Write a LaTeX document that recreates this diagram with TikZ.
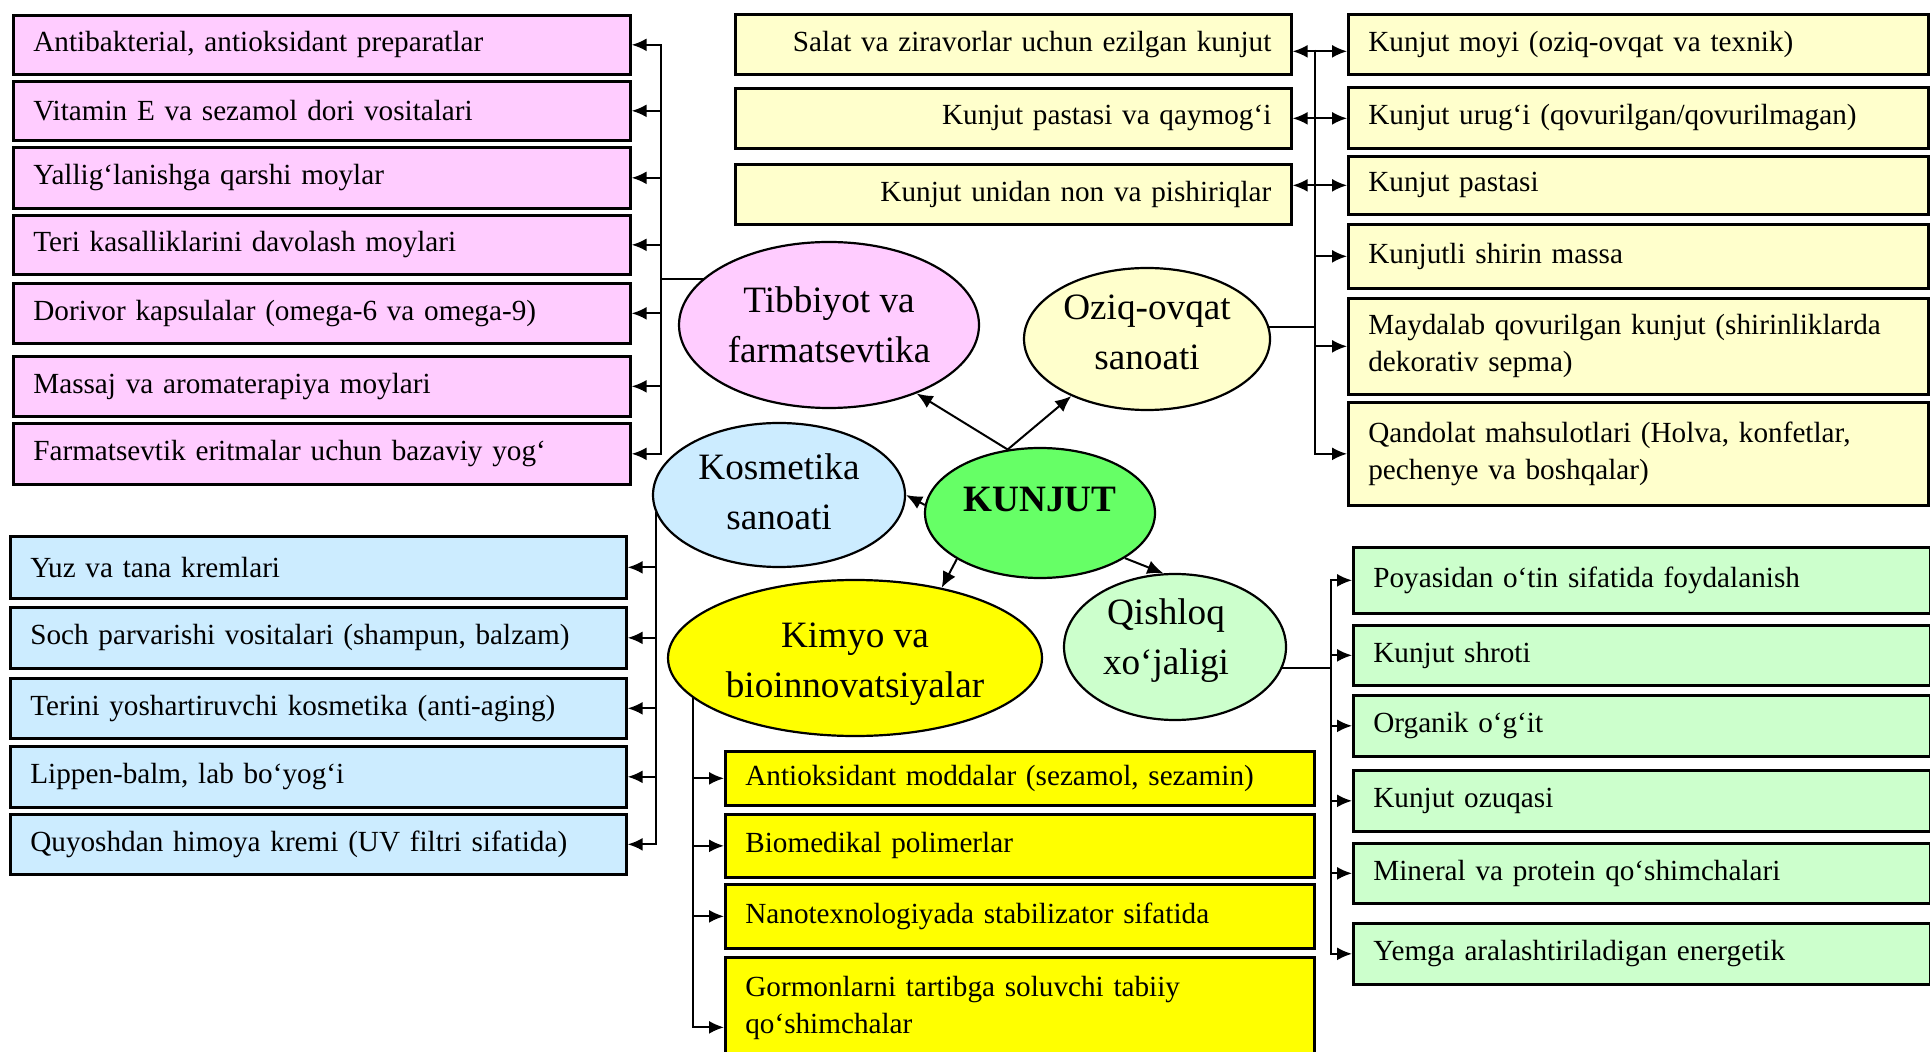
\documentclass[tikz,border=0pt]{standalone}
\usepackage{fontspec}
\setmainfont{Liberation Serif}
\usepackage{xcolor}
\usetikzlibrary{arrows.meta, shapes.geometric, backgrounds}

\definecolor{pinkc}{HTML}{FFCCFF}
\definecolor{creamc}{HTML}{FFFFCC}
\definecolor{bluec}{HTML}{CCECFF}
\definecolor{yellowc}{HTML}{FFFF00}
\definecolor{greenc}{HTML}{CCFFCC}
\definecolor{kunc}{HTML}{66FF66}

\newcommand{\boxfont}{\fontsize{14.6pt}{18.5pt}\selectfont}
\newcommand{\ellfont}{\fontsize{18.6pt}{25pt}\selectfont}

\begin{document}
\begin{tikzpicture}[x=0.5pt, y=-0.5pt,
    itembox/.style={draw, line width=1.35pt, anchor=north west, inner xsep=10pt, inner ysep=0pt, align=left, font=\boxfont},
    catell/.style={draw, ellipse, line width=1.1pt, inner sep=0pt},
    catlab/.style={align=center, font=\ellfont},
    arr/.style={-{Latex[length=7.5pt, width=6.5pt]}, line width=1pt},
    karr/.style={-{Latex[length=8pt, width=7pt]}, line width=1pt},
    dbl/.style={{Latex[length=7.5pt, width=6.5pt]}-{Latex[length=7.5pt, width=6.5pt]}, line width=1pt},
    bus/.style={line width=1pt}
]
\useasboundingbox (0,0) rectangle (1930,1052);
\clip (0,0) rectangle (1930,1052);

% Category ellipses round the centre
\node[catell, fill=kunc, minimum width=115pt, minimum height=65pt,
      label={[catlab, font=\ellfont\bfseries, yshift=6.5pt]center:KUNJUT}] (kun) at (1040,513) {};
\node[catell, fill=pinkc, minimum width=150pt, minimum height=83pt,
      label={[catlab]center:{Tibbiyot va\\farmatsevtika}}] (tib) at (829,325) {};
\node[catell, fill=creamc, minimum width=123pt, minimum height=71pt,
      label={[catlab, yshift=3.5pt]center:{Oziq-ovqat\\sanoati}}] (ozi) at (1147,339) {};
\node[catell, fill=bluec, minimum width=126pt, minimum height=72pt,
      label={[catlab, yshift=1.5pt]center:{Kosmetika\\sanoati}}] (kos) at (779,495) {};
\node[catell, fill=yellowc, minimum width=187pt, minimum height=78pt,
      label={[catlab, yshift=-3pt]center:{Kimyo va\\bioinnovatsiyalar}}] (kim) at (855,658) {};
\node[catell, fill=greenc, minimum width=111pt, minimum height=73pt,
      label={[catlab, yshift=3pt, xshift=-4.5pt]center:{Qishloq\\xo‘jaligi}}] (qis) at (1175,647) {};

\draw[karr] (kun.117) -- (tib.-38);
\draw[karr] (kun.117) -- (ozi.217);
\draw[karr] (kun.176) -- (kos.0);
\draw[karr] (kun.209) -- (kim.39);
\draw[karr] (kun.-28) -- (qis.99);

% Tibbiyot boxes (left top)
\foreach \i/\ya/\yb/\txt in {
    1/14/73/{Antibakterial, antioksidant preparatlar},
    2/80/139/{Vitamin E va sezamol dori vositalari},
    3/146/207/{Yallig‘lanishga qarshi moylar},
    4/214/273/{Teri kasalliklarini davolash moylari},
    5/282/342/{Dorivor kapsulalar (omega-6 va omega-9)},
    6/355/415/{Massaj va aromaterapiya moylari},
    7/422/483/{Farmatsevtik eritmalar uchun bazaviy yog‘}} {
    \node[itembox, fill=pinkc, text width=288.5pt, minimum height={(\yb-\ya)*0.5pt}] (p\i) at (12,\ya) {\txt};
}

% Oziq-ovqat boxes, left of the bus
\foreach \i/\ya/\yb/\txt in {
    1/13/73/{Salat va ziravorlar uchun ezilgan kunjut},
    2/87/147/{Kunjut pastasi va qaymog‘i},
    3/163/223/{Kunjut unidan non va pishiriqlar}} {
    \node[itembox, fill=creamc, align=right, text width=258pt, minimum height={(\yb-\ya)*0.5pt}] (o\i) at (734,\ya) {\txt};
}

% Oziq-ovqat boxes, right of the bus
\foreach \i/\ya/\yb/\txt in {
    1/13/73/{Kunjut moyi (oziq-ovqat va texnik)},
    2/86/147/{Kunjut urug‘i (qovurilgan/qovurilmagan)},
    3/155/213/{Kunjut pastasi},
    4/223/287/{Kunjutli shirin massa},
    5/297/393/{Maydalab qovurilgan kunjut (shirinliklarda\\dekorativ sepma)},
    6/401/504/{Qandolat mahsulotlari (Holva, konfetlar,\\pechenye va boshqalar)}} {
    \node[itembox, fill=creamc, text width=270pt, minimum height={(\yb-\ya)*0.5pt}] (r\i) at (1347,\ya) {\txt};
}

% Kosmetika boxes
\foreach \i/\ya/\yb/\txt in {
    1/535/597/{Yuz va tana kremlari},
    2/606/667/{Soch parvarishi vositalari (shampun, balzam)},
    3/677/737/{Terini yoshartiruvchi kosmetika (anti-aging)},
    4/745/806/{Lippen-balm, lab bo‘yog‘i},
    5/813/873/{Quyoshdan himoya kremi (UV filtri sifatida)}} {
    \node[itembox, fill=bluec, text width=288pt, minimum height={(\yb-\ya)*0.5pt}] (b\i) at (9,\ya) {\txt};
}

% Kimyo boxes
\foreach \i/\ya/\yb/\txt in {
    1/750/804/{Antioksidant moddalar (sezamol, sezamin)},
    2/813/876/{Biomedikal polimerlar},
    3/883/947/{Nanotexnologiyada stabilizator sifatida},
    4/956/1058/{Gormonlarni tartibga soluvchi tabiiy\\qo‘shimchalar}} {
    \node[itembox, fill=yellowc, text width=274.5pt, minimum height={(\yb-\ya)*0.5pt}] (y\i) at (724,\ya) {\txt};
}

% Qishloq xo'jaligi boxes
\foreach \i/\ya/\yb/\txt in {
    1/546/612/{Poyasidan o‘tin sifatida foydalanish},
    2/624/684/{Kunjut shroti},
    3/694/755/{Organik o‘g‘it},
    4/769/830/{Kunjut ozuqasi},
    5/842/902/{Mineral va protein qo‘shimchalari},
    6/922/983/{Yemga aralashtiriladigan energetik}} {
    \node[itembox, fill=greenc, text width=268.5pt, minimum height={(\yb-\ya)*0.5pt}] (g\i) at (1352,\ya) {\txt};
}

% Bus joints
\coordinate (pj) at (661,279);
\coordinate (oj) at (1315,327);
\coordinate (rtop) at (1315,50);
\coordinate (gj) at (1331,668);

\begin{scope}[on background layer]
    \draw[bus] (pj) -- (pj -| tib.center);
    \draw[bus] (oj) -- (oj -| ozi.center);
    \draw[bus] (gj) -- (gj -| qis.center);
\end{scope}

\foreach \i in {1,...,7} {
    \draw[arr] (pj) |- (p\i);
}
\draw[dbl] ([yshift=-3.5pt]o1.east) -- ([yshift=-3.5pt]o1.east -| r1.west);
\draw[dbl] (o2.east) -- (o2.east -| r2.west);
\draw[dbl] (o3.east |- r3.west) -- (r3.west);
\foreach \i in {4,5,6} {
    \draw[arr] (rtop) |- (r\i);
}
\foreach \i in {1,...,5} {
    \draw[arr] (kos.188) |- (b\i);
}
\foreach \i in {1,2,3} {
    \draw[arr] (kim.194) |- (y\i);
}
\draw[arr] (kim.194) |- ([yshift=-9.5pt]y4.west);
\foreach \i in {1,...,6} {
    \draw[arr] (gj) |- (g\i);
}

\end{tikzpicture}
\end{document}
